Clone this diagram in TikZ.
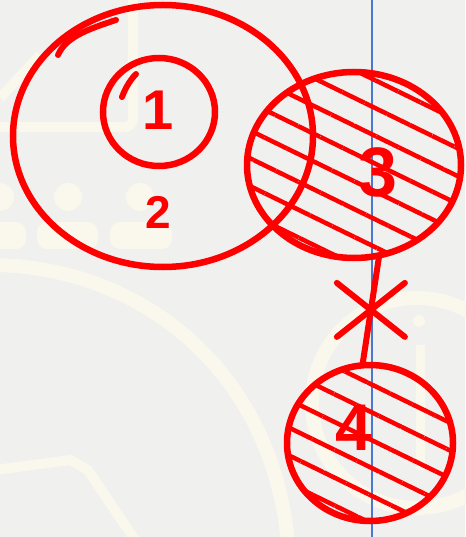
\documentclass[tikz,border=0pt]{standalone}
\usepackage{fontspec}
\setsansfont{Liberation Sans}
\usetikzlibrary{shapes.geometric,shapes.misc,patterns.meta}
\definecolor{inkred}{HTML}{FF0000}
\definecolor{paper}{HTML}{F0F0EF}
\definecolor{faint}{HTML}{FAF7EC}
\definecolor{guide}{HTML}{4A78D0}
\begin{document}
\begin{tikzpicture}[x=1pt,y=-1pt,
  ring/.style={ellipse, draw=inkred, line width=6.5pt, inner sep=0pt},
  hatched/.style={pattern={Lines[angle=-26,distance=25pt,line width=4.5pt]}, pattern color=inkred},
  digit/.style={text=inkred, font=\sffamily\bfseries\fontsize{#1}{#1}\selectfont, inner sep=0pt},
  pen/.style={draw=inkred, line width=6pt, line cap=round}]
\fill[paper] (0,0) rectangle (465,537);
\useasboundingbox (0,0) rectangle (465,537);
\draw[faint, line width=10pt, rounded corners=8pt] (133,-10) -- (133,127) -- (-10,127);
\draw[faint, line width=10pt] (0,98) -- (40,55);
\fill[faint] (0,197) circle (14pt) (68,197) circle (14pt) (140,197) circle (14pt);
\fill[faint, rounded corners=10pt] (-30,249) -- (-30,222) -- (26,222) -- (26,249) -- cycle;
\fill[faint, rounded corners=10pt] (37,249) -- (37,222) -- (98,222) -- (98,249) -- cycle;
\fill[faint, rounded corners=10pt] (110,249) -- (110,222) -- (172,222) -- (172,249) -- cycle;
\draw[faint, line width=14pt] (-5,265) .. controls (150,268) and (275,380) .. (288,545);
\draw[faint, line width=10pt] (-5,470) -- (70,460) -- (88,470) -- (135,540);
\draw[faint, line width=14pt] (417,403) circle (105pt);
\fill[faint] (419,321) circle (6pt);
\draw[faint, line width=9pt] (420,345) -- (420,470);
\draw[guide, line width=1.5pt] (372,0) -- (372,537);
\node[ring, minimum width=300pt, minimum height=262pt] (big) at (163,136) {};
\node[ring, minimum width=112pt, minimum height=108pt] (inner) at (159,112) {};
\node[ring, hatched, minimum width=214pt, minimum height=186pt] (top) at (354,165) {};
\node[ring, hatched, minimum width=166pt, minimum height=156pt] (low) at (370,443) {};
\node[digit=56] (one) at (158,110) {1};
\node[digit=46] (two) at (158,212) {2};
\node[digit=70] (three) at (378,172) {3};
\node[digit=66] (four) at (354,428) {4};
\draw[pen] (top.-75) -- node[cross out, draw=inkred, line width=6pt, line cap=round, minimum width=62pt, minimum height=48pt] (cut) {} (low.95);
\draw[pen] (58,55) .. controls (66,36) and (92,28) .. (116,20);
\draw[pen] (122,97) .. controls (126,86) and (132,78) .. (136,74);
\end{tikzpicture}
\end{document}
